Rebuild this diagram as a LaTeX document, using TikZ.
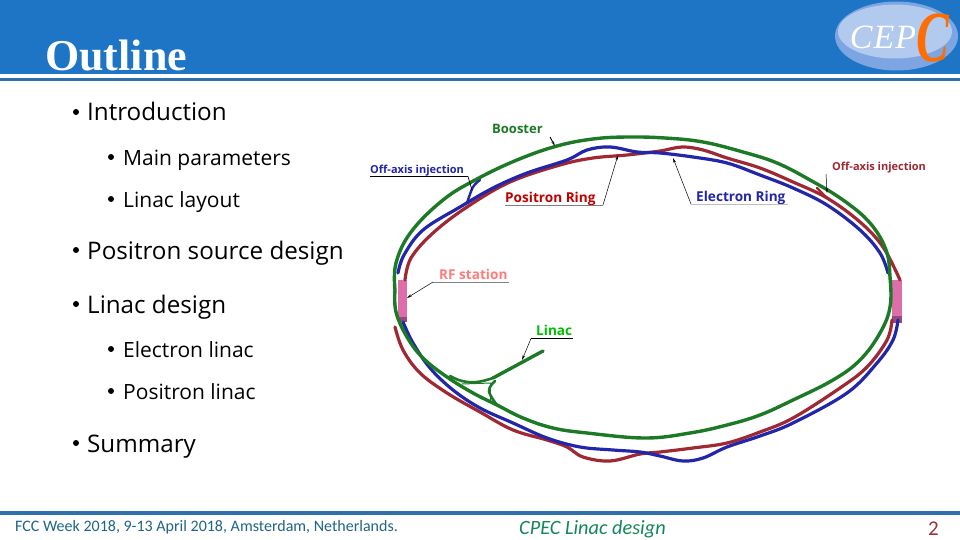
\documentclass[tikz,border=0pt]{standalone}
\usepackage{fontspec}
\setmainfont{Open Sans}
\newfontfamily\serifb{Liberation Serif}
\newfontfamily\foot{Carlito}
\newfontfamily\lab{Open Sans}
\usetikzlibrary{arrows.meta}
\definecolor{hdr}{RGB}{30,117,197}
\definecolor{rulec}{RGB}{46,112,172}
\definecolor{rgreen}{RGB}{28,122,38}
\definecolor{rblue}{RGB}{34,38,170}
\definecolor{rred}{RGB}{160,40,50}
\definecolor{rfpink}{RGB}{222,110,170}
\definecolor{rfdark}{RGB}{150,75,125}
\definecolor{logofill}{RGB}{178,202,238}
\definecolor{logoedge}{RGB}{125,165,225}
\definecolor{foott}{RGB}{32,100,135}
\definecolor{footg}{RGB}{20,135,90}
\definecolor{footr}{RGB}{150,50,60}
\tikzset{
 ring/.style={line width=3.2pt,line cap=round,line join=round},
 gring/.style={ring,draw=rgreen,line width=3.4pt},
 bring/.style={ring,draw=rblue},
 rring/.style={ring,draw=rred},
 branch/.style={line width=2.6pt,line cap=round,draw=rgreen},
 bul1/.style={anchor=base west,font=\fontsize{24.2}{28}\selectfont,text=black,inner sep=0pt},
 bul2/.style={anchor=base west,font=\fontsize{21}{25}\selectfont,text=black,inner sep=0pt},
 dot/.style={fill=black,circle,inner sep=0pt,minimum size=6pt},
 tag/.style={anchor=base west,inner sep=0pt,font=\lab\bfseries\fontsize{13.6}{15}\selectfont},
 small tag/.style={anchor=base west,inner sep=0pt,font=\lab\bfseries\fontsize{11}{12}\selectfont},
 lead/.style={line width=0.5pt,draw=black,-{Stealth[length=5pt,width=2.5pt]}},
 under/.style={line width=0.9pt},
}
\begin{document}
\begin{tikzpicture}[x=1pt,y=-1pt]
\useasboundingbox (0,0) rectangle (960,540);
\fill[white] (0,0) rectangle (960,540);
% header
\fill[hdr] (0,0) rectangle (960,74);
\fill[rulec] (0,78) rectangle (960,81);
\node[anchor=base west,inner sep=0pt,text=white,font=\serifb\bfseries\fontsize{44}{48}\selectfont] (title) at (45,71) {Outline};
% logo
\fill[logoedge] (896.5,36) ellipse [x radius=61.5,y radius=34.5];
\fill[logofill] (895,31.5) ellipse [x radius=57,y radius=27];
\node[anchor=center,inner sep=0pt,text=white,font=\serifb\itshape\fontsize{34}{34}\selectfont] (logotxt) at (883,37) {C\kern1ptE\kern1ptP};
\node[anchor=center,inner sep=0pt,text=orange!85!red,font=\serifb\itshape\bfseries\fontsize{72}{72}\selectfont] (logoc) at (933,38) {\scalebox{0.68}[1]{C}};
% bullets
\node[dot] (d1) at (76,112) {}; \node[bul1] (t1) at (87,121) {Introduction};
\node[dot] (d2) at (111,157) {}; \node[bul2] (t2) at (123,165) {Main parameters};
\node[dot] (d3) at (111,199) {}; \node[bul2] (t3) at (123,207) {Linac layout};
\node[dot] (d4) at (76,250) {}; \node[bul1] (t4) at (87,259) {Positron source design};
\node[dot] (d5) at (76,304) {}; \node[bul1] (t5) at (87,313) {Linac design};
\node[dot] (d6) at (111,349) {}; \node[bul2] (t6) at (123,357) {Electron linac};
\node[dot] (d7) at (111,391) {}; \node[bul2] (t7) at (123,399) {Positron linac};
\node[dot] (d8) at (76,443) {}; \node[bul1] (t8) at (87,452) {Summary};
% RF stations
\fill[rfpink] (398,280) rectangle (407,317);
\fill[rfdark] (398,317) rectangle (407,322);
\fill[rfpink] (892,280) rectangle (902,316);
\fill[rfdark] (892,316) rectangle (902,323);
% rings
\draw[rring] plot[smooth,tension=0.6] coordinates {(405,280) (411,258) (433,233) (467,207) (510,182) (560,165) (593,158) (627,155) (660,151) (682,147) (703,150) (727,158) (760,168) (793,182) (827,198) (860,222) (883,247) (900,280)};
\draw[rring] plot[smooth,tension=0.6] coordinates {(892,320) (887,340) (867,367) (840,388) (793,418) (760,432) (727,443) (693,448) (660,452) (640,454) (610,461) (583,457) (567,447) (547,440) (513,430) (480,412) (447,393) (420,373) (403,350) (395,327)};
\draw[rring,line width=2.4pt] plot[smooth,tension=0.5] coordinates {(817,188) (823,194) (827,198)};
\draw[bring] plot[smooth,tension=0.6] coordinates {(398,273) (404,255) (423,230) (460,207) (493,188) (527,173) (567,160) (587,150) (610,147) (637,152) (660,153) (693,157) (727,163) (760,175) (793,188) (827,205) (860,230) (880,253) (888,273)};
\draw[bring] plot[smooth,tension=0.6] coordinates {(898,320) (893,340) (877,363) (847,393) (793,423) (760,436) (727,447) (703,458) (683,461) (660,456) (640,452) (613,450) (580,447) (547,438) (513,423) (480,408) (453,390) (430,368) (413,343) (403,322)};
\draw[bring,line width=2.4pt] plot[smooth,tension=0.6] coordinates {(467,203) (473,187) (480,180)};
\draw[gring] plot[smooth,tension=0.65] coordinates {(395,290) (396,263) (411,232) (443,200) (477,179) (517,160) (557,146) (593,139) (627,137) (665,138) (703,142) (743,152) (777,163) (810,180) (843,200) (870,223) (886,250) (890,277) (890,307) (880,333) (860,360) (833,380) (793,400) (760,415) (727,425) (690,433) (645,438) (587,433) (553,428) (523,418) (497,405) (473,393) (447,377) (423,358) (407,337) (396,312) (395,290)};
% linac
\coordinate (linacend) at (543,351);
\coordinate (linacfork) at (493,378);
\draw[gring] (linacend) -- (linacfork);
\draw[branch] plot[smooth,tension=0.7] coordinates {(493,378) (477,382) (462,381) (450,376)};
\draw[branch] plot[smooth,tension=0.7] coordinates {(495,381) (489,391) (497,405)};
\draw[line width=1pt,draw=rgreen] (490,383) -- (490,400);
\draw[line width=1pt,draw=rgreen] (462,384) -- (491,383);
% labels
\node[small tag,text=rgreen,font=\lab\bfseries\fontsize{13}{14}\selectfont] (booster) at (492,134) {Booster};
\node[small tag,text=rblue] (offl) at (370,174) {Off-axis injection};
\node[tag,text=red!75!black] (pos) at (505,202) {Positron Ring};
\node[tag,text=rblue] (ele) at (696,201) {Electron Ring};
\node[small tag,text=rred] (offr) at (832,171) {Off-axis injection};
\node[tag,text=red!35!pink] (rf) at (439,279) {RF station};
\node[tag,text=green!75!black] (linac) at (536,335) {Linac};
% leaders and underlines
\coordinate (boostarr) at (555,146);
\coordinate (boosttail) at (550,137);
\draw[lead,line width=0.9pt] (boosttail) -- (boostarr);
\coordinate (ol1) at (370,176.5); \coordinate (ol2) at (468,176.5); \coordinate (ol3) at (472,190);
\draw[under,draw=black] (ol1) -- (ol2);
\draw[line width=0.7pt] (ol2) -- (ol3);
\coordinate (pr1) at (505,205); \coordinate (pr2) at (603,205); \coordinate (pr3) at (618,155);
\draw[under,draw=gray] (pr1) -- (pr2);
\draw[lead] (pr2) -- (pr3);
\coordinate (er1) at (691,204); \coordinate (er2) at (788,204); \coordinate (er3) at (673,158);
\draw[line width=0.4pt,draw=gray!50] (er1) -- (er2);
\draw[lead] (er1) -- (er3);
\coordinate (rf1) at (509,282); \coordinate (rf2) at (433,282); \coordinate (rf3) at (407,298);
\draw[under,draw=gray] (rf1) -- (rf2);
\draw[lead] (rf2) -- (rf3);
\coordinate (li1) at (573,338.5); \coordinate (li2) at (531,338.5); \coordinate (li3) at (522,360);
\draw[line width=0.5pt] (li1) -- (li2);
\draw[lead] (li2) -- (li3);
\coordinate (or1) at (826,174); \coordinate (or2) at (827,193);
\draw[lead] (or1) -- (or2);
% footer
\fill[rulec] (0,511) rectangle (960,515);
\node[anchor=base west,inner sep=0pt,text=foott,font=\foot\fontsize{16}{18}\selectfont] (ft1) at (15,531) {FCC Week 2018, 9-13 April 2018, Amsterdam, Netherlands.};
\node[anchor=base west,inner sep=0pt,text=footg,font=\foot\itshape\fontsize{20.3}{22}\selectfont] (ft2) at (519,534) {CPEC Linac design};
\node[anchor=base east,inner sep=0pt,text=footr,font=\foot\fontsize{21}{22}\selectfont] (ft3) at (939,535) {2};
\end{tikzpicture}
\end{document}
